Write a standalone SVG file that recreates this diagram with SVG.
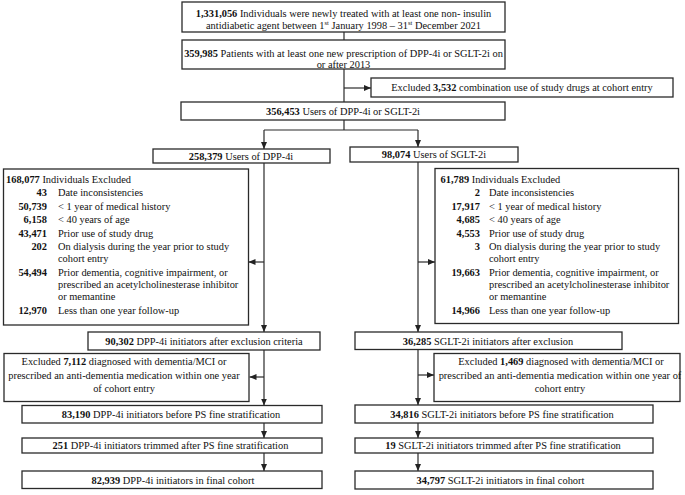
<svg xmlns="http://www.w3.org/2000/svg" width="685" height="495" viewBox="0 0 685 495" font-family="'Liberation Serif', 'Times New Roman', 'DejaVu Serif', serif">
<defs>
<marker id="ah" markerUnits="userSpaceOnUse" markerWidth="7" markerHeight="7" viewBox="0 0 7 7" refX="7" refY="3.5" orient="auto">
<path d="M0,0.5 L7,3.5 L0,6.5 Z" fill="#222"/>
</marker>
<style>
rect{fill:#fff;stroke:#2a2a2a;stroke-width:1.3}
text{font-family:'Liberation Serif','Times New Roman','DejaVu Serif',serif;font-size:10.4px;fill:#111}
.c{text-anchor:middle}
.r{text-anchor:end}
.b{font-weight:bold}
.ln{fill:none;stroke:#2a2a2a;stroke-width:1.2}
.sup{font-size:6.5px}
</style>
</defs>
<g id="connectors" class="ln">
<path class="ln" d="M344,32V40"/>
<path class="ln" d="M344,69V102"/>
<path class="ln" d="M344,88H371" marker-end="url(#ah)"/>
<path class="ln" d="M344,120V130M264,130H418"/>
<path class="ln" d="M264,130V149" marker-end="url(#ah)"/>
<path class="ln" d="M418,130V147" marker-end="url(#ah)"/>
<path class="ln" d="M264,163V332" marker-end="url(#ah)"/>
<path class="ln" d="M264,262H248.5" marker-end="url(#ah)"/>
<path class="ln" d="M418,162V332" marker-end="url(#ah)"/>
<path class="ln" d="M418,262H435" marker-end="url(#ah)"/>
<path class="ln" d="M264,350V405.5" marker-end="url(#ah)"/>
<path class="ln" d="M264,377H249.5" marker-end="url(#ah)"/>
<path class="ln" d="M418,350V405" marker-end="url(#ah)"/>
<path class="ln" d="M418,375H434" marker-end="url(#ah)"/>
<path class="ln" d="M264,423V438" marker-end="url(#ah)"/>
<path class="ln" d="M264,453V471" marker-end="url(#ah)"/>
<path class="ln" d="M418,423V438" marker-end="url(#ah)"/>
<path class="ln" d="M418,453V471" marker-end="url(#ah)"/>
</g>
<g id="n1">
<rect x="182" y="2" width="323" height="30"/>
<text class="c" x="343.5" y="16.5"><tspan class="b">1,331,056</tspan> Individuals were newly treated with at least one non- insulin</text>
<text class="c" x="343.5" y="28.5">antidiabetic agent between 1<tspan class="sup" dy="-4">st</tspan><tspan dy="4"> January 1998 – 31</tspan><tspan class="sup" dy="-4">st</tspan><tspan dy="4"> December 2021</tspan></text>
</g>
<g id="n2">
<rect x="182" y="40" width="323" height="29"/>
<text class="c" x="343.5" y="56.5"><tspan class="b">359,985</tspan> Patients with at least one new prescription of DPP-4i or SGLT-2i on</text>
<text class="c" x="343.5" y="67.5">or after 2013</text>
</g>
<g id="n3">
<rect x="371" y="78" width="302" height="19"/>
<text class="c" x="522" y="91">Excluded <tspan class="b">3,532</tspan> combination use of study drugs at cohort entry</text>
</g>
<g id="n4">
<rect x="181" y="102" width="324" height="18"/>
<text class="c" x="343" y="115"><tspan class="b">356,453</tspan> Users of DPP-4i or SGLT-2i</text>
</g>
<g id="n5">
<rect x="153" y="149" width="177" height="14"/>
<text class="c" x="241" y="159.5"><tspan class="b">258,379</tspan> Users of DPP-4i</text>
</g>
<g id="n6">
<rect x="350" y="147" width="168" height="15"/>
<text class="c" x="434" y="158"><tspan class="b">98,074</tspan> Users of SGLT-2i</text>
</g>
<g id="n7">
<rect x="3.5" y="169" width="245" height="156"/>
<text x="6" y="182.5"><tspan class="b">168,077</tspan> Individuals Excluded</text>
<text class="r b" x="47" y="196">43</text><text x="58" y="196">Date inconsistencies</text>
<text class="r b" x="47" y="209.5">50,739</text><text x="58" y="209.5">&lt; 1 year of medical history</text>
<text class="r b" x="47" y="223">6,158</text><text x="58" y="223">&lt; 40 years of age</text>
<text class="r b" x="47" y="236.5">43,471</text><text x="58" y="236.5">Prior use of study drug</text>
<text class="r b" x="47" y="250">202</text><text x="58" y="250">On dialysis during the year prior to study</text>
<text x="58" y="262">cohort entry</text>
<text class="r b" x="47" y="275.5">54,494</text><text x="58" y="275.5">Prior dementia, cognitive impairment, or</text>
<text x="58" y="287.5">prescribed an acetylcholinesterase inhibitor</text>
<text x="58" y="299.5">or memantine</text>
<text class="r b" x="47" y="313.5">12,970</text><text x="58" y="313.5">Less than one year follow-up</text>
</g>
<g id="n8">
<rect x="435" y="168.5" width="243.5" height="155"/>
<text x="440.5" y="182.5"><tspan class="b">61,789</tspan> Individuals Excluded</text>
<text class="r b" x="480" y="196">2</text><text x="489" y="196">Date inconsistencies</text>
<text class="r b" x="480" y="209.5">17,917</text><text x="489" y="209.5">&lt; 1 year of medical history</text>
<text class="r b" x="480" y="223">4,685</text><text x="489" y="223">&lt; 40 years of age</text>
<text class="r b" x="480" y="236.5">4,553</text><text x="489" y="236.5">Prior use of study drug</text>
<text class="r b" x="480" y="250">3</text><text x="489" y="250">On dialysis during the year prior to study</text>
<text x="489" y="262">cohort entry</text>
<text class="r b" x="480" y="275.5">19,663</text><text x="489" y="275.5">Prior dementia, cognitive impairment, or</text>
<text x="489" y="287.5">prescribed an acetylcholinesterase inhibitor</text>
<text x="489" y="299.5">or memantine</text>
<text class="r b" x="480" y="313.5">14,966</text><text x="489" y="313.5">Less than one year follow-up</text>
</g>
<g id="n9">
<rect x="88" y="332" width="232" height="18"/>
<text class="c" x="204" y="344.5"><tspan class="b">90,302</tspan> DPP-4i initiators after exclusion criteria</text>
</g>
<g id="n10">
<rect x="355" y="332" width="267" height="17.5"/>
<text class="c" x="488" y="344.5"><tspan class="b">36,285</tspan> SGLT-2i initiators after exclusion</text>
</g>
<g id="n11">
<rect x="4" y="353.5" width="245" height="48"/>
<text class="c" x="124" y="365">Excluded <tspan class="b">7,112</tspan> diagnosed with dementia/MCI or</text>
<text class="c" x="124" y="378.5">prescribed an anti-dementia medication within one year</text>
<text class="c" x="124" y="392">of cohort entry</text>
</g>
<g id="n12">
<rect x="434" y="353.5" width="246" height="48"/>
<text class="c" x="561" y="365">Excluded <tspan class="b">1,469</tspan> diagnosed with dementia/MCI or</text>
<text class="c" x="560" y="378.5">prescribed an anti-dementia medication within one year of</text>
<text class="c" x="560" y="392">cohort entry</text>
</g>
<g id="n13">
<rect x="22" y="405.5" width="300" height="17.5"/>
<text class="c" x="171" y="418"><tspan class="b">83,190</tspan> DPP-4i initiators before PS fine stratification</text>
</g>
<g id="n14">
<rect x="22" y="438" width="300" height="15"/>
<text class="c" x="170.5" y="449"><tspan class="b">251</tspan> DPP-4i initiators trimmed after PS fine stratification</text>
</g>
<g id="n15">
<rect x="22" y="471" width="300" height="17.5"/>
<text class="c" x="173" y="483.5"><tspan class="b">82,939</tspan> DPP-4i initiators in final cohort</text>
</g>
<g id="n16">
<rect x="355" y="405" width="298" height="18"/>
<text class="c" x="502" y="417.5"><tspan class="b">34,816</tspan> SGLT-2i initiators before PS fine stratification</text>
</g>
<g id="n17">
<rect x="355" y="438" width="298" height="15"/>
<text class="c" x="503" y="449"><tspan class="b">19</tspan> SGLT-2i initiators trimmed after PS fine stratification</text>
</g>
<g id="n18">
<rect x="355" y="471" width="298" height="18"/>
<text class="c" x="500.5" y="483.5"><tspan class="b">34,797</tspan> SGLT-2i initiators in final cohort</text>
</g>
</svg>
